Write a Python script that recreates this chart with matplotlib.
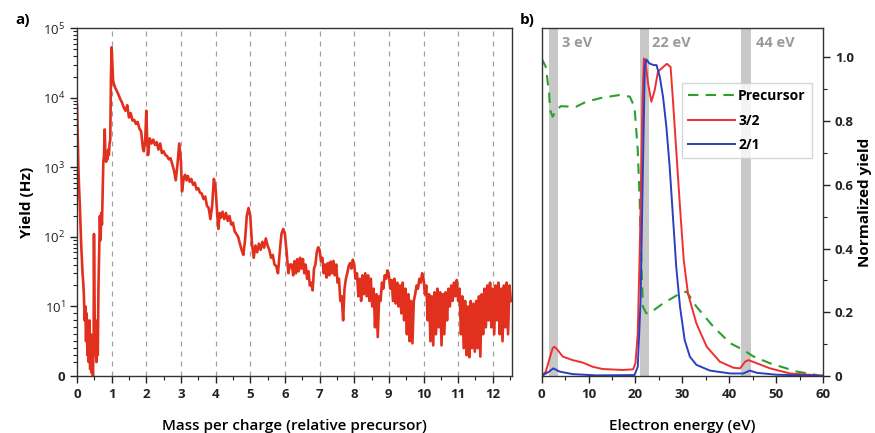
import matplotlib
matplotlib.use("Agg")
import matplotlib.pyplot as plt
from matplotlib.ticker import FixedLocator, MultipleLocator, FixedFormatter

plt.rcParams['font.family'] = ['Open Sans', 'DejaVu Sans']
plt.rcParams['mathtext.fontset'] = 'custom'
plt.rcParams['mathtext.rm'] = 'Open Sans'
plt.rcParams['mathtext.bf'] = 'Open Sans:bold'

# ---------------- panel a) data: mass spectrum ----------------
mass_x = [0.00, 0.02, 0.04, 0.06, 0.08, 0.10, 0.12, 0.14, 0.16, 0.18, 0.20, 0.22, 0.24, 0.26, 0.28,
          0.30, 0.32, 0.34, 0.36, 0.38, 0.40, 0.42, 0.44, 0.46, 0.48, 0.49, 0.50, 0.52, 0.54, 0.56,
          0.58, 0.60, 0.62, 0.64, 0.66, 0.68, 0.70, 0.72, 0.74, 0.76, 0.78, 0.80, 0.82, 0.84, 0.86,
          0.88, 0.90, 0.92, 0.94, 0.96, 0.98, 1.00, 1.02, 1.04, 1.06, 1.08,
          1.10, 1.15, 1.20, 1.25, 1.30, 1.35, 1.40, 1.45, 1.50, 1.55, 1.60, 1.65, 1.70, 1.75, 1.80,
          1.85, 1.90, 1.93, 1.97, 2.00, 2.02, 2.05, 2.10, 2.15, 2.20, 2.25, 2.30, 2.35, 2.40, 2.45,
          2.50, 2.55, 2.60, 2.65, 2.70, 2.75, 2.80, 2.85, 2.90, 2.95, 3.00, 3.03, 3.08, 3.12, 3.16,
          3.20, 3.25, 3.30, 3.35, 3.40, 3.45, 3.50, 3.55, 3.60, 3.65, 3.70, 3.75, 3.80, 3.85, 3.90,
          3.95, 4.00, 4.05, 4.08, 4.12, 4.16, 4.20, 4.25, 4.30, 4.35, 4.40, 4.45, 4.50, 4.55, 4.60,
          4.65, 4.70, 4.75, 4.80, 4.85, 4.90, 4.95, 5.00, 5.05, 5.10, 5.15, 5.20, 5.25, 5.30, 5.35,
          5.40, 5.45, 5.50, 5.55, 5.60, 5.65, 5.70, 5.75, 5.80, 5.85, 5.90, 5.95, 6.00, 6.05, 6.10,
          6.15,
          6.20, 6.24, 6.28, 6.32, 6.36, 6.40, 6.44, 6.48, 6.52, 6.56, 6.60, 6.64, 6.68, 6.72, 6.76,
          6.80, 6.84, 6.88, 6.92, 6.96, 7.00, 7.04, 7.08, 7.12, 7.16, 7.20, 7.24, 7.28, 7.32, 7.36,
          7.40, 7.44, 7.48, 7.52, 7.56, 7.60, 7.64, 7.68, 7.72, 7.76, 7.80, 7.84, 7.88, 7.92, 7.96,
          8.00, 8.04, 8.08, 8.12, 8.16, 8.20, 8.24, 8.28, 8.32, 8.36, 8.40, 8.44, 8.48, 8.52, 8.56,
          8.60, 8.64, 8.68, 8.72, 8.76, 8.80, 8.84, 8.88, 8.92, 8.96, 9.00, 9.04, 9.08, 9.12, 9.16,
          9.20, 9.24, 9.28, 9.32, 9.36, 9.40, 9.44, 9.48, 9.52, 9.56, 9.60, 9.64, 9.68, 9.72, 9.76,
          9.80, 9.84, 9.88, 9.92, 9.96, 10.00, 10.04, 10.08, 10.12, 10.16, 10.20, 10.24, 10.28, 10.32, 10.36,
          10.40, 10.44, 10.48, 10.52, 10.56, 10.60, 10.64, 10.68, 10.72, 10.76, 10.80, 10.84, 10.88, 10.92, 10.96,
          11.00, 11.04, 11.08, 11.12, 11.16, 11.20, 11.24, 11.28, 11.32, 11.36, 11.40, 11.44, 11.48, 11.52, 11.56,
          11.60, 11.64, 11.68, 11.72, 11.76, 11.80, 11.84, 11.88, 11.92, 11.96, 12.00, 12.04, 12.08, 12.12, 12.16,
          12.20, 12.24, 12.28, 12.32, 12.36, 12.40, 12.44, 12.48, 12.52]
mass_y = [8000, 3000, 1000, 500, 300, 150, 80, 50, 30, 22, 14, 8, 10, 5, 9,
          3, 7, 2, 8, 1, 6, 0.5, 3, 0, 5, 110, 20, 3, 8, 2,
          6, 3, 20, 60, 200, 90, 220, 150, 400, 1200, 1500, 3500, 1500, 1200, 1600,
          1300, 1800, 1500, 2200, 2500, 20000, 53000, 30000, 18000, 16000, 15000,
          14000, 12500, 11000, 9500, 8500, 7200, 6500, 7800, 5200, 6000, 4700, 4800, 4200, 4500, 3600,
          3300, 1900, 1700, 2500, 6500, 3000, 1500, 2600, 2200, 2500, 2100, 2300, 1800, 2200, 1600,
          1700, 1500, 1450, 1300, 1350, 1100, 900, 650, 1100, 2200, 1200, 450, 700, 780, 650,
          750, 620, 680, 560, 600, 480, 500, 430, 420, 350, 380, 280, 260, 180, 280,
          680, 500, 200, 130, 220, 190, 230, 180, 220, 170, 200, 150, 160, 120, 110,
          100, 80, 65, 55, 90, 200, 260, 200, 80, 50, 75, 60, 80, 65, 85,
          70, 95, 75, 65, 50, 55, 40, 38, 30, 60, 110, 130, 110, 60, 30,
          40,
          40, 28, 45, 30, 48, 32, 50, 35, 48, 30, 40, 25, 32, 20, 22,
          17, 35, 40, 60, 71, 65, 45, 50, 30, 40, 26, 42, 28, 44, 30,
          45, 28, 40, 22, 25, 12, 14, 8, 18, 25, 30, 38, 42, 35, 47,
          40, 25, 30, 14, 25, 12, 28, 15, 30, 14, 28, 12, 25, 10, 18,
          7, 15, 5.6, 14, 12, 22, 18, 28, 25, 33, 28, 18, 24, 12, 25,
          11, 22, 10, 20, 9, 22, 8, 18, 6, 15, 5, 12, 4.7, 12, 15,
          20, 18, 25, 22, 30, 25, 15, 20, 8, 15, 5, 14, 4.4, 16, 6,
          18, 7, 16, 4.4, 15, 6, 16, 8, 18, 10, 20, 12, 22, 14, 24,
          12, 18, 6, 14, 4, 12, 3, 10, 2.7, 12, 4, 11, 3.5, 12, 4,
          14, 2.8, 15, 6, 18, 7, 20, 8, 22, 7, 18, 6, 20, 8, 22,
          6, 18, 5, 20, 7, 22, 6, 20, 12]

# ---------------- panel b) data: electron energy scans ----------------
prec_e = [0.0, 0.9, 1.6, 1.8, 2.35, 3.1, 4.1, 7.3, 9.5, 13.0, 16.6, 18.8, 19.8, 20.5, 20.9,
          21.3, 21.6, 22.3, 23.0, 25.9, 29.5, 30.9, 33.0, 36.6, 40.2, 43.0, 45.2, 48.7, 54.4, 58.7]
prec_y = [0.997, 0.97, 0.887, 0.835, 0.814, 0.835, 0.847, 0.845, 0.861, 0.874, 0.882, 0.877, 0.845, 0.709, 0.552,
          0.343, 0.218, 0.197, 0.197, 0.228, 0.259, 0.265, 0.218, 0.155, 0.103, 0.082, 0.061, 0.04, 0.014, 0.003]

r32_e = [0.0, 0.9, 1.6, 2.35, 2.7, 3.4, 4.5, 6.6, 8.8, 10.9, 13.0, 17.3, 19.5, 20.0, 20.5,
         21.0, 21.5, 21.8, 22.1, 22.7, 23.4, 24.1, 24.8, 25.9, 26.7, 27.5, 28.0, 28.7, 29.5, 30.3,
         31.2, 33.0, 35.2, 38.0, 40.9, 42.3, 43.4, 44.1, 45.9, 48.7, 53.0, 60.0]
r32_y = [0.0, 0.014, 0.05, 0.087, 0.092, 0.082, 0.061, 0.05, 0.042, 0.029, 0.022, 0.019, 0.021, 0.04, 0.134,
         0.448, 0.866, 0.997, 0.99, 0.918, 0.861, 0.897, 0.955, 0.97, 0.98, 0.97, 0.866, 0.709, 0.531, 0.364,
         0.259, 0.165, 0.092, 0.045, 0.026, 0.024, 0.045, 0.05, 0.04, 0.024, 0.008, 0.001]

r21_e = [0.0, 1.6, 2.5, 3.8, 6.6, 11.6, 19.8, 20.5, 21.1, 21.6, 22.0, 22.3, 23.0, 23.9, 24.5,
         25.2, 25.9, 26.6, 27.3, 28.0, 28.7, 29.5, 30.5, 31.6, 33.0, 35.9, 40.2, 43.0, 44.4, 45.9,
         50.1, 60.0]
r21_y = [0.0, 0.014, 0.024, 0.014, 0.006, 0.002, 0.003, 0.029, 0.238, 0.657, 0.97, 0.994, 0.981, 0.976, 0.976,
         0.939, 0.875, 0.782, 0.657, 0.5, 0.343, 0.218, 0.113, 0.061, 0.035, 0.017, 0.008, 0.008, 0.017, 0.01,
         0.004, 0.001]

band_lo = [1.6, 20.9, 42.5]
band_hi = [3.4, 22.8, 44.6]
band_labels = ['3 eV', '22 eV', '44 eV']
band_label_x = [4.3, 23.6, 45.7]

series_names = ['Precursor', '3/2', '2/1']

# ---------------- figure ----------------
fig = plt.figure(figsize=(8.75, 4.33), dpi=100)
axa = fig.add_axes([0.088, 0.1316, 0.497, 0.8034])
axb = fig.add_axes([0.619, 0.1316, 0.3216, 0.8034])

red_a = '#e2301f'
axa.plot(mass_x, mass_y, color=red_a, lw=1.9)
axa.set_yscale('symlog', linthresh=10, linscale=0.9)
axa.set_ylim(0, 1e5)
axa.set_xlim(0, 12.55)
for k in range(1, 13):
    axa.axvline(k, color='#a0a0a0', lw=0.9, ls=(0, (4, 4)), zorder=0)
axa.yaxis.set_major_locator(FixedLocator([0, 10, 100, 1e3, 1e4, 1e5]))
axa.yaxis.set_major_formatter(FixedFormatter(['0', r'$10^1$', r'$10^2$', r'$10^3$', r'$10^4$', r'$10^5$']))
minors = []
for dec in [1, 10, 100, 1000, 10000]:
    for s in range(2, 10):
        minors.append(s * dec)
axa.yaxis.set_minor_locator(FixedLocator(minors))
axa.xaxis.set_major_locator(MultipleLocator(1))
axa.xaxis.set_minor_locator(MultipleLocator(0.5))
axa.set_xlabel('Mass per charge (relative precursor)', fontsize=11, fontweight='semibold', labelpad=13)
axa.set_ylabel('Yield (Hz)', fontsize=11, fontweight='bold', labelpad=6)

# panel b
for lo, hi in zip(band_lo, band_hi):
    axb.axvspan(lo, hi, color='#c8c8c8', lw=0, zorder=0)
for lab, lx in zip(band_labels, band_label_x):
    axb.text(lx, 1.045, lab, color='#9a9a9a', fontsize=10.5, fontweight='bold', va='center', ha='left')
axb.plot(prec_e, prec_y, color='#2ca02c', lw=1.5, ls=(0, (5, 3.5)), label=series_names[0])
axb.plot(r32_e, r32_y, color='#ee3030', lw=1.4, label=series_names[1])
axb.plot(r21_e, r21_y, color='#2b3fbf', lw=1.4, label=series_names[2])
axb.set_xlim(0, 60)
axb.set_ylim(0, 1.092)
axb.xaxis.set_major_locator(MultipleLocator(10))
axb.xaxis.set_minor_locator(MultipleLocator(5))
axb.yaxis.tick_right()
axb.yaxis.set_label_position('right')
axb.yaxis.set_major_locator(FixedLocator([0, 0.2, 0.4, 0.6, 0.8, 1.0]))
axb.yaxis.set_major_formatter(FixedFormatter(['0', '0.2', '0.4', '0.6', '0.8', '1.0']))
axb.yaxis.set_minor_locator(MultipleLocator(0.1))
axb.set_xlabel('Electron energy (eV)', fontsize=11, fontweight='semibold', labelpad=13)
axb.set_ylabel('Normalized yield', fontsize=11, fontweight='bold', labelpad=3)
leg = axb.legend(loc='upper right', bbox_to_anchor=(0.961, 0.842), frameon=True, fancybox=False,
                 edgecolor='#cccccc', fontsize=10, handlelength=3.4, handletextpad=0.2,
                 borderpad=0.45, labelspacing=0.75, borderaxespad=0)
for t in leg.get_texts():
    t.set_fontweight('bold')

for ax in (axa, axb):
    for sp in ax.spines.values():
        sp.set_color('#333333')
        sp.set_linewidth(1.0)
    ax.tick_params(which='major', direction='out', length=5, width=1, labelsize=9.5, colors='#222222')
    ax.tick_params(which='minor', direction='out', length=3, width=0.8, colors='#222222')
    for lbl in ax.get_xticklabels() + ax.get_yticklabels():
        lbl.set_fontweight('bold')

fig.text(0.018, 0.945, 'a)', fontsize=11, fontweight='bold')
fig.text(0.594, 0.945, 'b)', fontsize=11, fontweight='bold')

fig.savefig('out.png', dpi=100)
